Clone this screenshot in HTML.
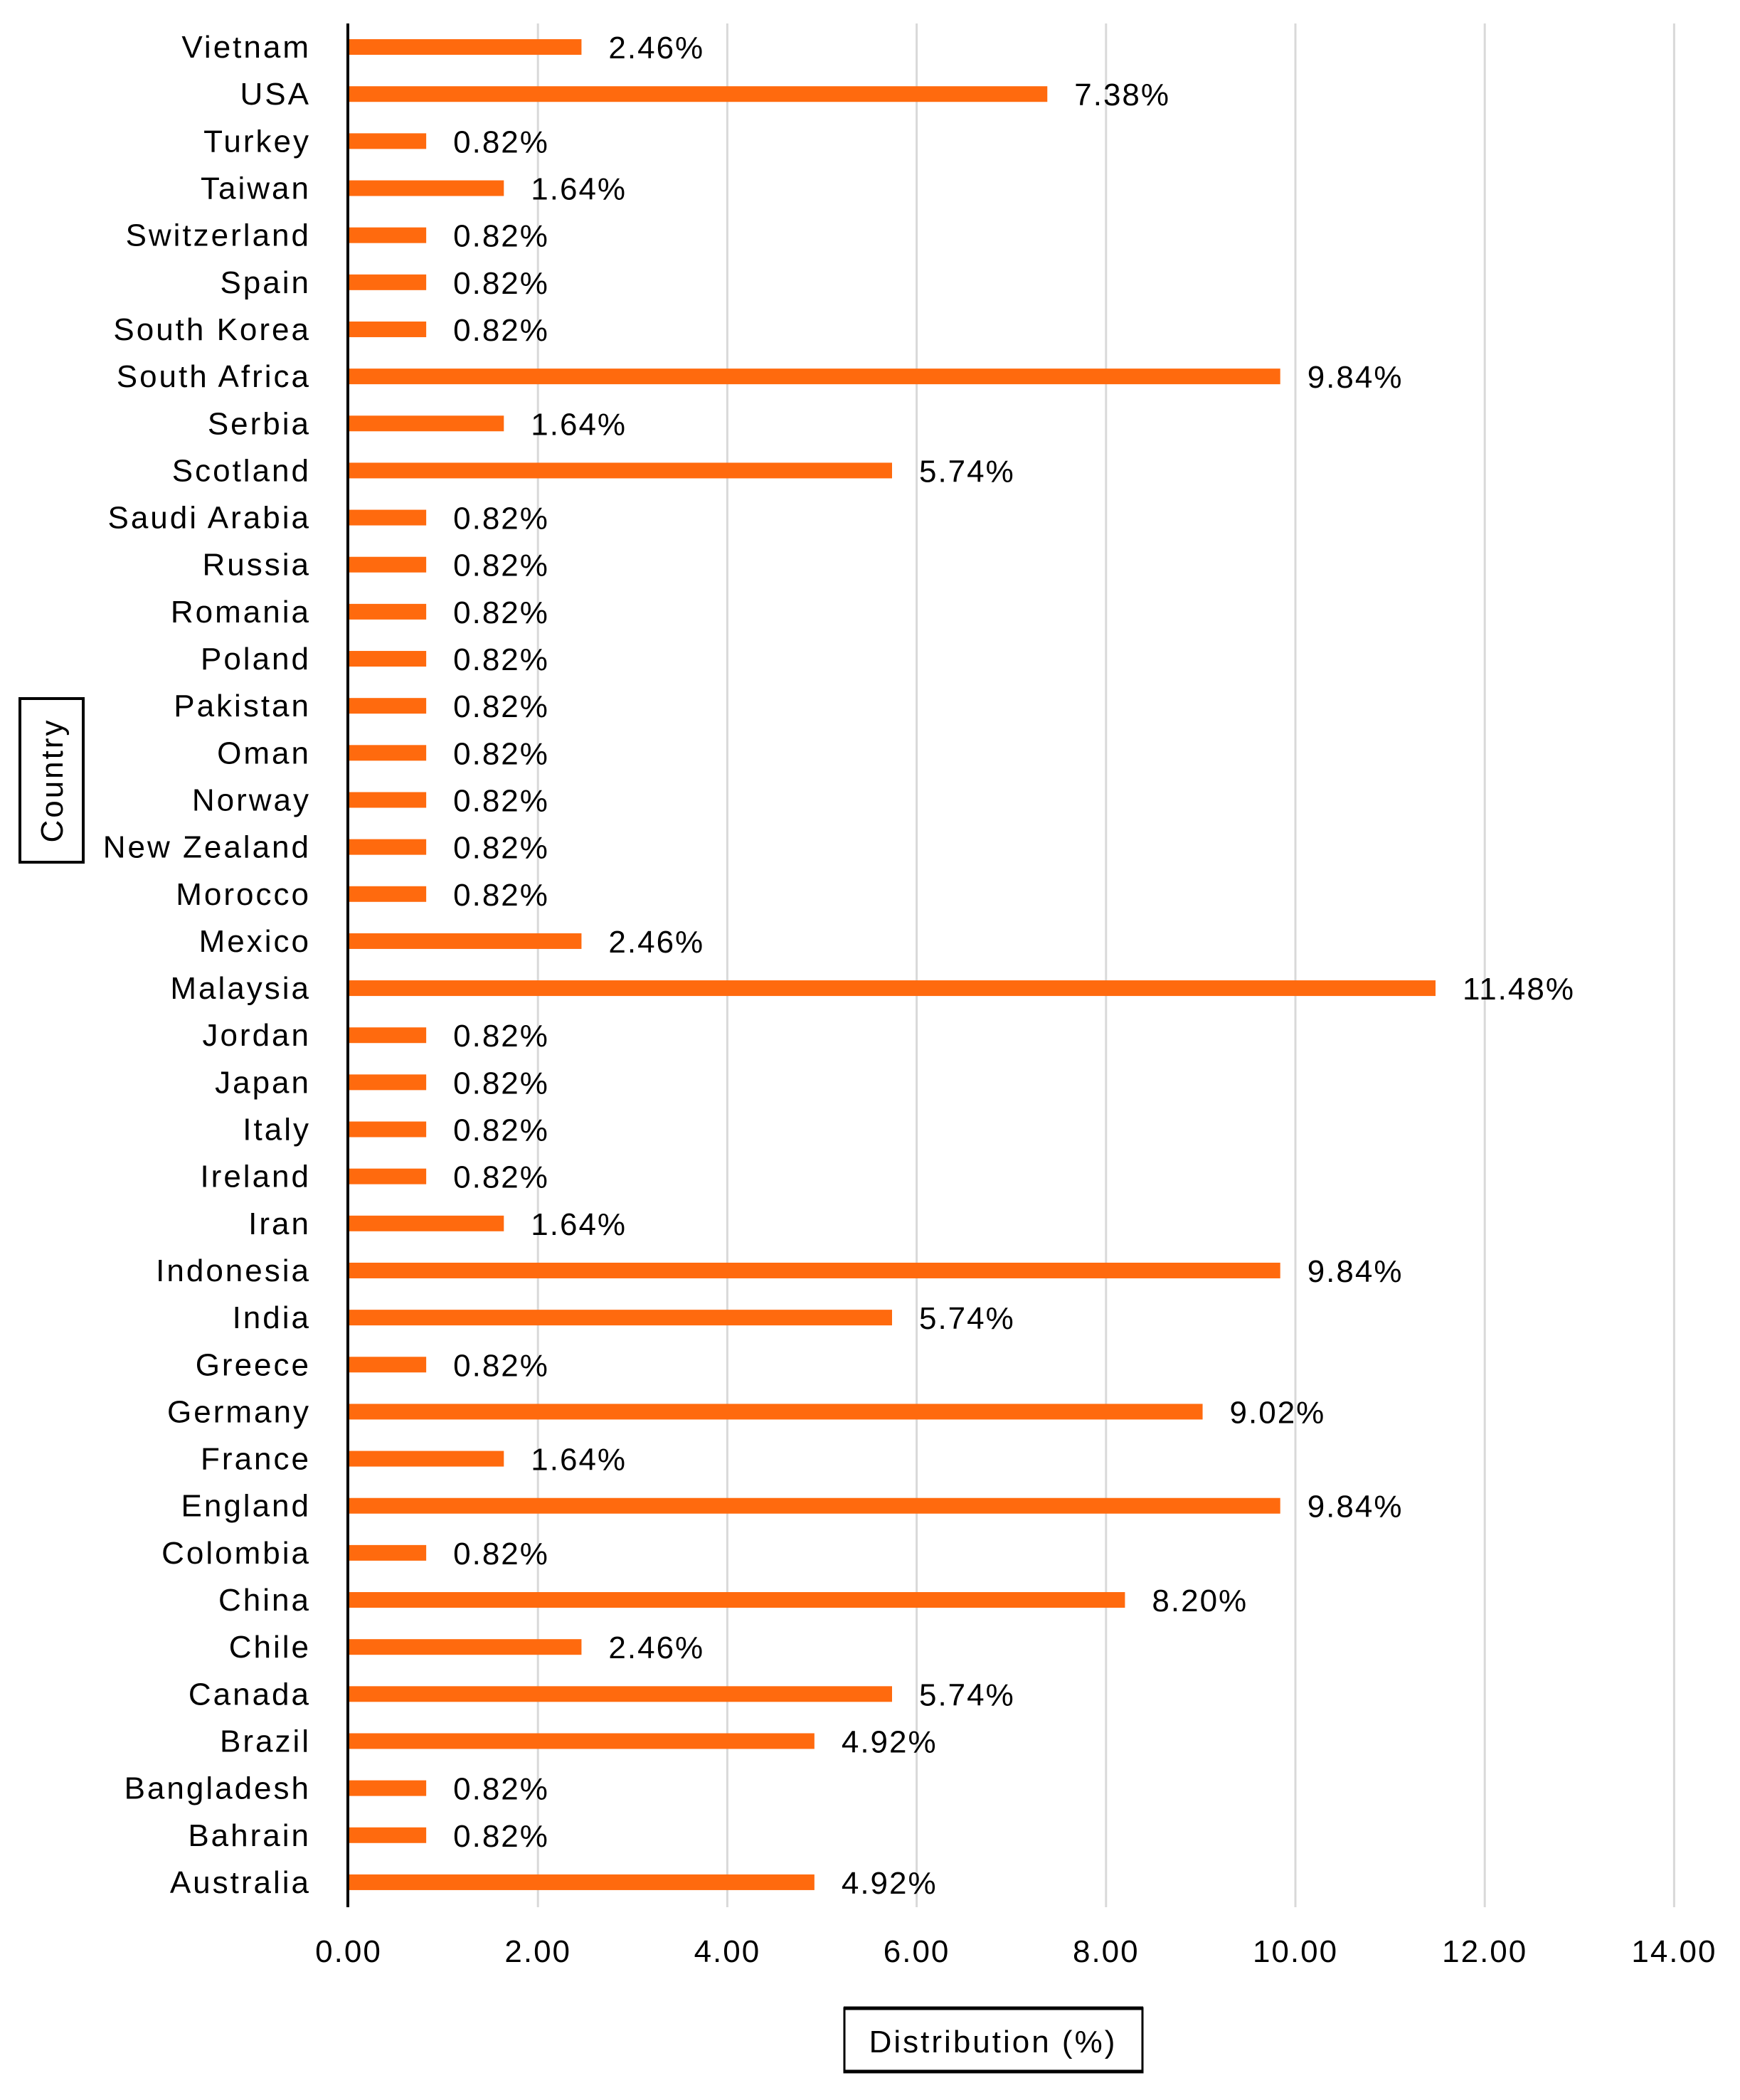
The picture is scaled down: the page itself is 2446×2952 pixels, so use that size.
<!DOCTYPE html>
<html><head><meta charset="utf-8">
<style>
html,body{margin:0;padding:0;background:#fff;}
svg{display:block;font-family:"Liberation Sans",sans-serif;}
</style></head>
<body>
<svg id="chart" width="2446" height="2952" viewBox="0 0 2446 2952" xmlns="http://www.w3.org/2000/svg">
<g id="grid"></g>
<g id="bars"></g>
<g id="cats"></g>
<g id="vals"></g>
<g id="ticks"></g>
<line x1="489" y1="33" x2="489" y2="2681" stroke="#000" stroke-width="4"/>
<g>
<rect x="28" y="982" width="89" height="230" fill="none" stroke="#000" stroke-width="4"/>
<text x="0" y="0" transform="translate(88,1097) rotate(-90)" text-anchor="middle" font-size="44" letter-spacing="3" fill="#000">Country</text>
</g>
<g>
<rect x="1187" y="2823" width="419" height="90" fill="none" stroke="#000" stroke-width="3"/>
<line x1="1186" y1="2823" x2="1607" y2="2823" stroke="#000" stroke-width="5"/>
<line x1="1186" y1="2912" x2="1607" y2="2912" stroke="#000" stroke-width="5"/>
<text x="1396" y="2885" text-anchor="middle" font-size="44" letter-spacing="3" fill="#000">Distribution (%)</text>
</g>
</svg>
<script>
const categories = ["Vietnam","USA","Turkey","Taiwan","Switzerland","Spain","South Korea","South Africa","Serbia","Scotland","Saudi Arabia","Russia","Romania","Poland","Pakistan","Oman","Norway","New Zealand","Morocco","Mexico","Malaysia","Jordan","Japan","Italy","Ireland","Iran","Indonesia","India","Greece","Germany","France","England","Colombia","China","Chile","Canada","Brazil","Bangladesh","Bahrain","Australia"];
const values = [2.46,7.38,0.82,1.64,0.82,0.82,0.82,9.84,1.64,5.74,0.82,0.82,0.82,0.82,0.82,0.82,0.82,0.82,0.82,2.46,11.48,0.82,0.82,0.82,0.82,1.64,9.84,5.74,0.82,9.02,1.64,9.84,0.82,8.20,2.46,5.74,4.92,0.82,0.82,4.92];
const ticks = [0,2,4,6,8,10,12,14];
const tickLabels = ["0.00","2.00","4.00","6.00","8.00","10.00","12.00","14.00"];

const NS="http://www.w3.org/2000/svg";
const x0=490, unit=133.1, yTop=33, yBottom=2679;
const band=(yBottom-yTop)/categories.length;
const xs=v=>x0+v*unit;
const yc=i=>yTop+band*(i+0.5);
function mk(tag,attrs,parent){const e=document.createElementNS(NS,tag);for(const k in attrs)e.setAttribute(k,attrs[k]);parent.appendChild(e);return e;}
const G=id=>document.getElementById(id);

ticks.forEach((t,i)=>{
  if(i>0){
    const l=mk('line',{x1:xs(t),x2:xs(t),y1:yTop,y2:yBottom+2,stroke:'#d9d9d9','stroke-width':3},G('grid'));
    
    
  }
  const tx=mk('text',{x:xs(t),y:2758,'text-anchor':'middle','font-size':44,'letter-spacing':2,fill:'#000'},G('ticks'));
  tx.textContent=tickLabels[i];
  
  
});

categories.forEach((c,i)=>{
  const v=values[i], y=yc(i);
  const r=mk('rect',{x:x0,y:y-11,width:xs(v)-x0,height:22,fill:'#ff6a0e'},G('bars'));
  
  
  const t=mk('text',{x:437,y:y+15,'text-anchor':'end','font-size':44,'letter-spacing':3,fill:'#000'},G('cats'));
  t.textContent=c;
  
  
  const vl=mk('text',{x:xs(v)+38,y:y+16,'font-size':44,'letter-spacing':2,fill:'#000'},G('vals'));
  vl.textContent=v.toFixed(2)+'%';
  
  
});
</script>
</body></html>
